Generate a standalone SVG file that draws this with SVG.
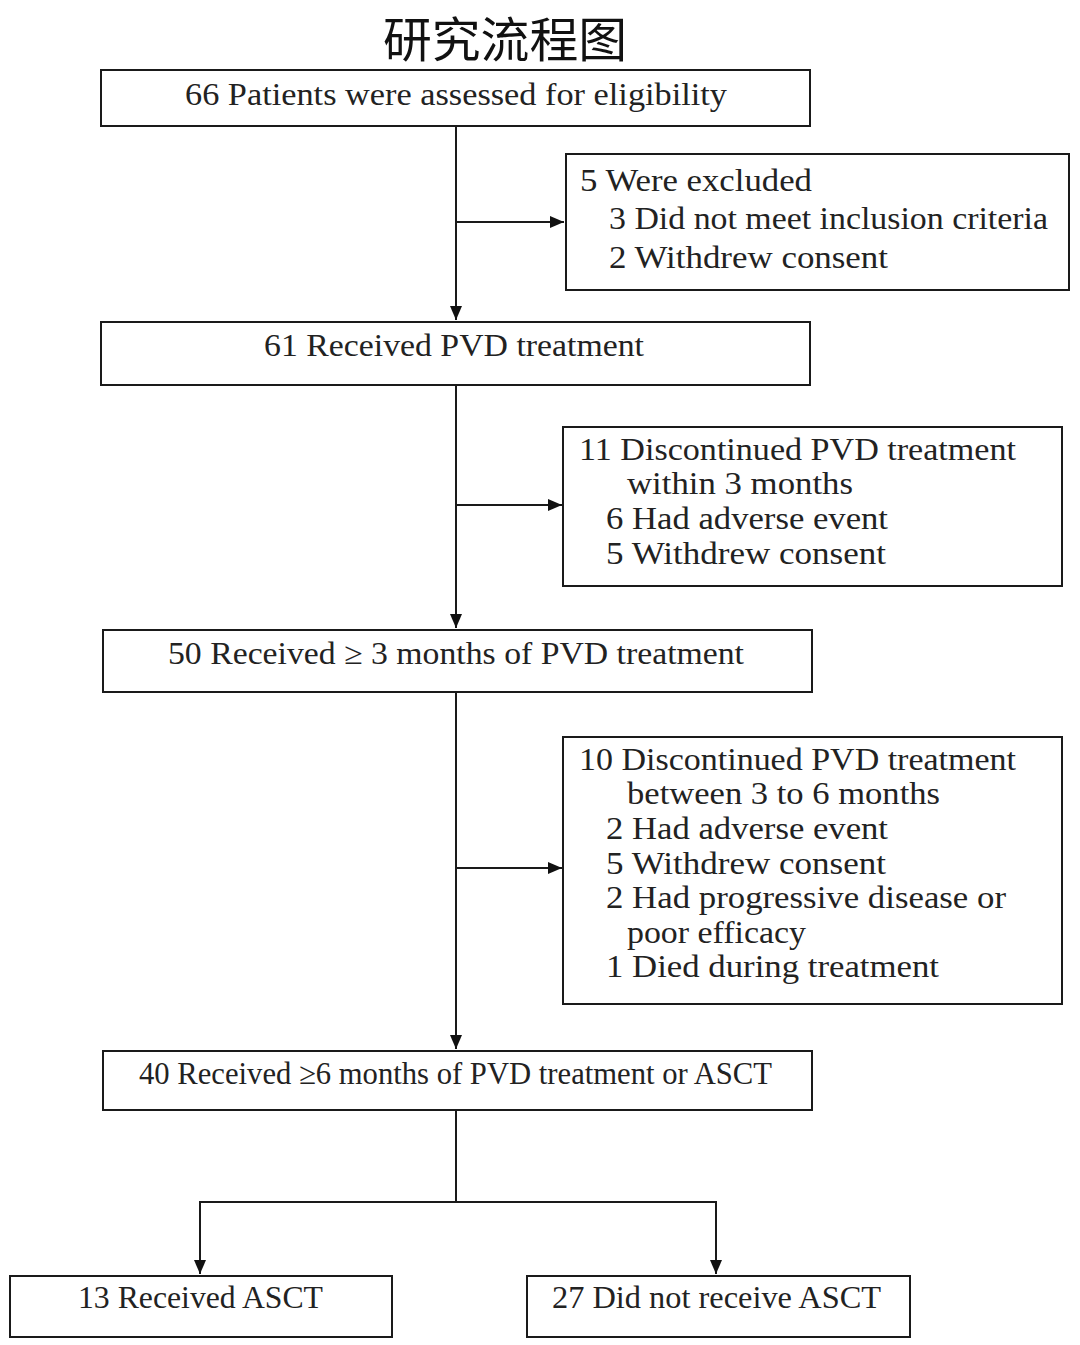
<svg xmlns="http://www.w3.org/2000/svg" width="1080" height="1345" viewBox="0 0 1080 1345">
<style>
.box{fill:#fff;stroke:#1a1a1a;stroke-width:2}
.t{font-family:"Liberation Serif","DejaVu Serif",serif;font-size:31px;fill:#222}
.ln{fill:none;stroke:#1a1a1a;stroke-width:2}
.title{font-family:"Noto Sans CJK SC",sans-serif;font-size:48px;fill:#111;text-anchor:middle}
</style>
<defs>
<marker id="ah" viewBox="0 0 14 12" refX="14" refY="6" markerWidth="14" markerHeight="12" markerUnits="userSpaceOnUse" orient="auto">
<path d="M0,0 L14,6 L0,12 Z" fill="#111"/>
</marker>
</defs>
<rect width="1080" height="1345" fill="#fff"/>
<text class="title" x="505" y="57" textLength="244" lengthAdjust="spacingAndGlyphs">研究流程图</text>
<g id="connectors">
<line class="ln" x1="456" y1="126" x2="456" y2="320" marker-end="url(#ah)"/>
<line class="ln" x1="456" y1="222" x2="564" y2="222" marker-end="url(#ah)"/>
<line class="ln" x1="456" y1="385" x2="456" y2="628" marker-end="url(#ah)"/>
<line class="ln" x1="456" y1="505" x2="562" y2="505" marker-end="url(#ah)"/>
<line class="ln" x1="456" y1="692" x2="456" y2="1049" marker-end="url(#ah)"/>
<line class="ln" x1="456" y1="868" x2="562" y2="868" marker-end="url(#ah)"/>
<polyline class="ln" points="456,1110 456,1202"/>
<line class="ln" x1="199" y1="1202" x2="717" y2="1202"/>
<line class="ln" x1="200" y1="1202" x2="200" y2="1274" marker-end="url(#ah)"/>
<line class="ln" x1="716" y1="1202" x2="716" y2="1274" marker-end="url(#ah)"/>
</g>
<g id="n1">
<rect class="box" x="101" y="70" width="709" height="56"/>
<text class="t" x="185" y="105" textLength="542" lengthAdjust="spacingAndGlyphs">66 Patients were assessed for eligibility</text>
</g>
<g id="e1">
<rect class="box" x="566" y="154" width="503" height="136"/>
<text class="t" x="580" y="191" textLength="232" lengthAdjust="spacingAndGlyphs">5 Were excluded</text>
<text class="t" x="609" y="229" textLength="439" lengthAdjust="spacingAndGlyphs">3 Did not meet inclusion criteria</text>
<text class="t" x="609" y="268" textLength="279" lengthAdjust="spacingAndGlyphs">2 Withdrew consent</text>
</g>
<g id="n2">
<rect class="box" x="101" y="322" width="709" height="63"/>
<text class="t" x="264" y="356" textLength="380" lengthAdjust="spacingAndGlyphs">61 Received PVD treatment</text>
</g>
<g id="e2">
<rect class="box" x="563" y="427" width="499" height="159"/>
<text class="t" x="579" y="460" textLength="437" lengthAdjust="spacingAndGlyphs">11 Discontinued PVD treatment</text>
<text class="t" x="627" y="494" textLength="226" lengthAdjust="spacingAndGlyphs">within  3 months</text>
<text class="t" x="606" y="529" textLength="282" lengthAdjust="spacingAndGlyphs">6 Had adverse event</text>
<text class="t" x="606" y="564" textLength="280" lengthAdjust="spacingAndGlyphs">5 Withdrew consent</text>
</g>
<g id="n3">
<rect class="box" x="103" y="630" width="709" height="62"/>
<text class="t" x="168" y="664" textLength="576" lengthAdjust="spacingAndGlyphs">50 Received ≥ 3 months of PVD treatment</text>
</g>
<g id="e3">
<rect class="box" x="563" y="737" width="499" height="267"/>
<text class="t" x="579" y="770" textLength="437" lengthAdjust="spacingAndGlyphs">10 Discontinued PVD treatment</text>
<text class="t" x="627" y="804" textLength="313" lengthAdjust="spacingAndGlyphs">between 3 to 6 months</text>
<text class="t" x="606" y="839" textLength="282" lengthAdjust="spacingAndGlyphs">2 Had adverse event</text>
<text class="t" x="606" y="874" textLength="280" lengthAdjust="spacingAndGlyphs">5 Withdrew consent</text>
<text class="t" x="606" y="908" textLength="400" lengthAdjust="spacingAndGlyphs">2 Had progressive disease or</text>
<text class="t" x="627" y="943" textLength="179" lengthAdjust="spacingAndGlyphs">poor efficacy</text>
<text class="t" x="606" y="977" textLength="333" lengthAdjust="spacingAndGlyphs">1 Died during treatment</text>
</g>
<g id="n4">
<rect class="box" x="103" y="1051" width="709" height="59"/>
<text class="t" x="139" y="1084" textLength="633" lengthAdjust="spacingAndGlyphs">40 Received ≥6 months of PVD treatment or ASCT</text>
</g>
<g id="n5">
<rect class="box" x="10" y="1276" width="382" height="61"/>
<text class="t" x="78" y="1308" textLength="245" lengthAdjust="spacingAndGlyphs">13 Received ASCT</text>
</g>
<g id="n6">
<rect class="box" x="527" y="1276" width="383" height="61"/>
<text class="t" x="552" y="1308" textLength="329" lengthAdjust="spacingAndGlyphs">27 Did not receive ASCT</text>
</g>
</svg>
